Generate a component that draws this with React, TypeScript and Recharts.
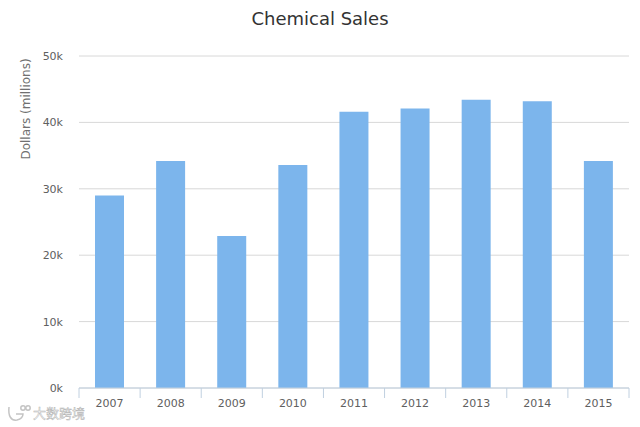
import { BarChart, Bar, XAxis, YAxis, CartesianGrid, Label } from "recharts";

const years = ["2007", "2008", "2009", "2010", "2011", "2012", "2013", "2014", "2015"];
const sales = [29000, 34200, 22900, 33600, 41600, 42100, 43400, 43200, 34200];
const yTicks = [0, 10000, 20000, 30000, 40000, 50000];

const data = years.map((year, i) => ({ year, sales: sales[i] }));

const font = "'DejaVu Sans', sans-serif";
const axisColor = "#c0d0e0";

// highcharts style: tick marks sit between the categories, labels in the middle
function YearTick({ x, y, payload, index }: any) {
  const step = 550 / years.length;
  const left = x - step / 2;
  const top = y - 8;
  return (
    <g>
      <line x1={left} x2={left} y1={top} y2={top + 10} stroke={axisColor} />
      {index === years.length - 1 && <line x1={left + step} x2={left + step} y1={top} y2={top + 10} stroke={axisColor} />}
      <text x={x} y={top + 19} textAnchor="middle" fill="#606060" fontSize={11} fontFamily={font}>
        {payload.value}
      </text>
    </g>
  );
}

export default function App() {
  return (
    <div style={{ position: "absolute", left: 0, top: 0, width: 640, height: 427, background: "#fff", fontFamily: font }}>
      <div style={{ position: "absolute", top: 8, width: 640, textAlign: "center", fontSize: 18, color: "#333" }}>Chemical Sales</div>
      <BarChart
        width={640}
        height={427}
        data={data}
        margin={{ top: 56, right: 11, left: 0, bottom: 9 }}
        barSize={29}
      >
        <CartesianGrid vertical={false} stroke="#d8d8d8" />
        <XAxis
          dataKey="year"
          height={30}
          stroke={axisColor}
          tickLine={false}
          tick={YearTick}
          interval={0}
        />
        <YAxis
          width={79}
          domain={[0, 50000]}
          ticks={yTicks}
          axisLine={false}
          tickLine={false}
          tickSize={0}
          tickMargin={16}
          tick={{ fill: "#606060", fontSize: 11, fontFamily: font }}
          tickFormatter={(v: number) => `${v / 1000}k`}
        >
          <Label value="Dollars (millions)" angle={-90} position="insideLeft" offset={26} dy={-113} style={{ fill: "#707070", fontSize: 12, textAnchor: "middle", fontFamily: font }} />
        </YAxis>
        <Bar dataKey="sales" fill="#7cb5ec" isAnimationActive={false} />
      </BarChart>
      <svg width={26} height={20} style={{ position: "absolute", left: 6, top: 404 }} fill="none" stroke="#c4c4c4" strokeWidth={1.5}>
        <path d="M3 3 C2 12 5 17 11 16 C15 15 17 13 17 10 L10 10" />
        <circle cx={17} cy={4} r={2.2} />
        <circle cx={22} cy={4} r={2.2} />
      </svg>
      <div style={{ position: "absolute", left: 33, top: 406, fontSize: 13, lineHeight: "14px", color: "#fff", WebkitTextStroke: "0.5px #b4b4b4", fontFamily: "'Noto Sans CJK SC', sans-serif" }}>大数跨境</div>
    </div>
  );
}
